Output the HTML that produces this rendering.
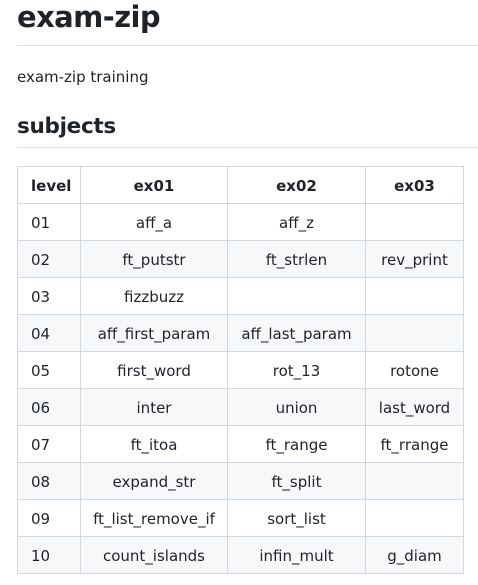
<!DOCTYPE html>
<html><head><style>
html,body{margin:0;padding:0;background:#fff;width:478px;height:585px;overflow:hidden;}
body{font-family:"DejaVu Sans","Liberation Sans",sans-serif;color:#1f2328;position:relative;}
.h1{position:absolute;left:17px;top:-7px;font-size:29px;font-weight:bold;line-height:48px;letter-spacing:-0.6px;}
.l1{position:absolute;left:17px;top:45px;width:461px;height:1px;background:#d8dee4;}
.p{position:absolute;left:17px;top:66px;font-size:15px;line-height:22px;}
.h2{position:absolute;left:17px;top:111px;font-size:21.5px;font-weight:bold;line-height:32px;letter-spacing:-0.3px;}
.l2{position:absolute;left:17px;top:147px;width:461px;height:1px;background:#d8dee4;}
table{position:absolute;left:17px;top:166px;border-collapse:collapse;font-size:15px;}
td,th{border:1px solid #d0d7de;height:36px;padding:1px 0 0 0;box-sizing:border-box;text-align:center;}
th{font-weight:bold;}
td:first-child,th:first-child{text-align:left;padding-left:13px;width:63px;}
.c1{width:147px}.c2{width:138px}.c3{width:98px}
tr:nth-child(odd) td{background:#f6f8fa;}
</style></head><body>
<div class="h1">exam-zip</div><div class="l1"></div>
<div class="p">exam-zip training</div>
<div class="h2">subjects</div><div class="l2"></div>
<table>
<tr style="height:37px"><th>level</th><th class="c1">ex01</th><th class="c2">ex02</th><th class="c3">ex03</th></tr>
<tr style="height:37px"><td>01</td><td>aff_a</td><td>aff_z</td><td></td></tr>
<tr style="height:37px"><td>02</td><td>ft_putstr</td><td>ft_strlen</td><td>rev_print</td></tr>
<tr style="height:37px"><td>03</td><td>fizzbuzz</td><td></td><td></td></tr>
<tr style="height:37px"><td>04</td><td>aff_first_param</td><td>aff_last_param</td><td></td></tr>
<tr style="height:37px"><td>05</td><td>first_word</td><td>rot_13</td><td>rotone</td></tr>
<tr style="height:37px"><td>06</td><td>inter</td><td>union</td><td>last_word</td></tr>
<tr style="height:37px"><td>07</td><td>ft_itoa</td><td>ft_range</td><td>ft_rrange</td></tr>
<tr style="height:37px"><td>08</td><td>expand_str</td><td>ft_split</td><td></td></tr>
<tr style="height:37px"><td>09</td><td>ft_list_remove_if</td><td>sort_list</td><td></td></tr>
<tr style="height:37px"><td>10</td><td>count_islands</td><td>infin_mult</td><td>g_diam</td></tr>
</table>
</body></html>
